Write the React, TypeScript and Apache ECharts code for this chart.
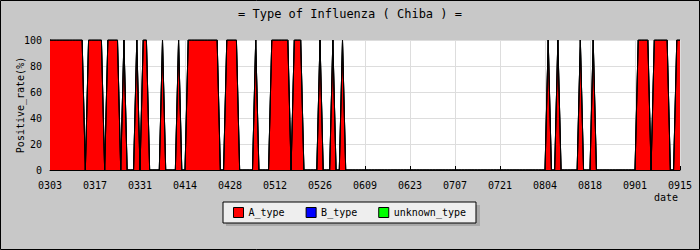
import React, { useEffect, useRef } from "react";
import * as echarts from "echarts";

const TITLE = "= Type of Influenza ( Chiba ) =";
const SERIES_NAMES = ["A_type", "B_type", "unknown_type"];
const SERIES_COLORS = ["#ff0000", "#0000ff", "#00ff00"];
const MONTHS = [3, 4, 5, 6, 7, 8, 9];
const MONTH_DAYS = [31, 30, 31, 30, 31, 31, 30];
const START_DAY = 3;
const END_DAY = 15;

// daily A_type positive rate (%) from 0303 to 0915, 14 days per row
const A_TYPE = [
  100, 100, 100, 100, 100, 100, 100, 100, 100, 100, 100, 0, 100, 100,
  100, 100, 100, 0, 100, 100, 100, 100, 0, 100, 0, 0, 0, 100,
  0, 100, 100, 0, 0, 0, 0, 100, 0, 0, 0, 0, 100, 0,
  0, 100, 100, 100, 100, 100, 100, 100, 100, 100, 100, 0, 0, 100,
  100, 100, 100, 0, 0, 0, 0, 0, 100, 0, 0, 0, 0, 100,
  100, 100, 100, 100, 100, 0, 100, 100, 100, 0, 0, 0, 0, 0,
  100, 0, 0, 0, 100, 0, 0, 100, 0, 0, 0, 0, 0, 0,
  0, 0, 0, 0, 0, 0, 0, 0, 0, 0, 0, 0, 0, 0,
  0, 0, 0, 0, 0, 0, 0, 0, 0, 0, 0, 0, 0, 0,
  0, 0, 0, 0, 0, 0, 0, 0, 0, 0, 0, 0, 0, 0,
  0, 0, 0, 0, 0, 0, 0, 0, 0, 0, 0, 0, 0, 0,
  0, 100, 0, 0, 100, 0, 0, 0, 0, 0, 0, 100, 0, 0,
  0, 100, 0, 0, 0, 0, 0, 0, 0, 0, 0, 0, 0, 0,
  0, 100, 100, 100, 100, 0, 100, 100, 100, 100, 100, 0, 0, 100,
  100,
];

const B_TYPE = [
  0, 0, 0, 0, 0, 0, 0, 0, 0, 0, 0, 0, 0, 0,
  0, 0, 0, 0, 0, 0, 0, 0, 0, 0, 0, 0, 0, 0,
  0, 0, 0, 0, 0, 0, 0, 0, 0, 0, 0, 0, 0, 0,
  0, 0, 0, 0, 0, 0, 0, 0, 0, 0, 0, 0, 0, 0,
  0, 0, 0, 0, 0, 0, 0, 0, 0, 0, 0, 0, 0, 0,
  0, 0, 0, 0, 0, 0, 0, 0, 0, 0, 0, 0, 0, 0,
  0, 0, 0, 0, 0, 0, 0, 0, 0, 0, 0, 0, 0, 0,
  0, 0, 0, 0, 0, 0, 0, 0, 0, 0, 0, 0, 0, 0,
  0, 0, 0, 0, 0, 0, 0, 0, 0, 0, 0, 0, 0, 0,
  0, 0, 0, 0, 0, 0, 0, 0, 0, 0, 0, 0, 0, 0,
  0, 0, 0, 0, 0, 0, 0, 0, 0, 0, 0, 0, 0, 0,
  0, 0, 0, 0, 0, 0, 0, 0, 0, 0, 0, 0, 0, 0,
  0, 0, 0, 0, 0, 0, 0, 0, 0, 0, 0, 0, 0, 0,
  0, 0, 0, 0, 0, 0, 0, 0, 0, 0, 0, 0, 0, 0,
  0,
];

const UNKNOWN_TYPE = [
  0, 0, 0, 0, 0, 0, 0, 0, 0, 0, 0, 0, 0, 0,
  0, 0, 0, 0, 0, 0, 0, 0, 0, 0, 0, 0, 0, 0,
  0, 0, 0, 0, 0, 0, 0, 0, 0, 0, 0, 0, 0, 0,
  0, 0, 0, 0, 0, 0, 0, 0, 0, 0, 0, 0, 0, 0,
  0, 0, 0, 0, 0, 0, 0, 0, 0, 0, 0, 0, 0, 0,
  0, 0, 0, 0, 0, 0, 0, 0, 0, 0, 0, 0, 0, 0,
  0, 0, 0, 0, 0, 0, 0, 0, 0, 0, 0, 0, 0, 0,
  0, 0, 0, 0, 0, 0, 0, 0, 0, 0, 0, 0, 0, 0,
  0, 0, 0, 0, 0, 0, 0, 0, 0, 0, 0, 0, 0, 0,
  0, 0, 0, 0, 0, 0, 0, 0, 0, 0, 0, 0, 0, 0,
  0, 0, 0, 0, 0, 0, 0, 0, 0, 0, 0, 0, 0, 0,
  0, 0, 0, 0, 0, 0, 0, 0, 0, 0, 0, 0, 0, 0,
  0, 0, 0, 0, 0, 0, 0, 0, 0, 0, 0, 0, 0, 0,
  0, 0, 0, 0, 0, 0, 0, 0, 0, 0, 0, 0, 0, 0,
  0,
];

function buildDates(): string[] {
  const out: string[] = [];
  MONTHS.forEach((m, mi) => {
    const first = mi === 0 ? START_DAY : 1;
    const last = mi === MONTHS.length - 1 ? END_DAY : MONTH_DAYS[mi];
    for (let d = first; d <= last; d++) {
      out.push(String(m).padStart(2, "0") + String(d).padStart(2, "0"));
    }
  });
  return out;
}
const DATES = buildDates();

const FONT = "DejaVu Sans Mono";

export default function App() {
  const ref = useRef<HTMLDivElement>(null);
  useEffect(() => {
    document.body.style.margin = "0";
    if (!ref.current) return;
    const chart = echarts.init(ref.current, null, { renderer: "svg" });
    const data = [A_TYPE, B_TYPE, UNKNOWN_TYPE];
    chart.setOption({
      animation: false,
      backgroundColor: "#c8c8c8",
      title: {
        text: TITLE,
        left: "center",
        top: 3,
        textStyle: { fontFamily: FONT, fontSize: 12, fontWeight: "normal", color: "#000" },
      },
      grid: {
        left: 50,
        right: 20,
        top: 40,
        bottom: 80,
        show: true,
        backgroundColor: "#ffffff",
        borderWidth: 0,
        containLabel: false,
        outerBoundsMode: "none",
      },
      legend: {
        data: SERIES_NAMES,
        left: 223,
        top: 202,
        orient: "horizontal",
        itemWidth: 10,
        itemHeight: 10,
        itemGap: 21,
        padding: [5, 10],
        backgroundColor: "#eeeeee",
        borderColor: "#000",
        borderWidth: 1,
        icon: "rect",
        z: 5,
        itemStyle: { borderColor: "#000", borderWidth: 1 },
        textStyle: { fontFamily: FONT, fontSize: 10, color: "#000" },
      },
      xAxis: {
        type: "category",
        data: DATES,
        boundaryGap: false,
        axisLine: { lineStyle: { color: "#000", width: 1 } },
        axisTick: { inside: true, length: 4, interval: 13, lineStyle: { color: "#000" } },
        axisLabel: { interval: 13, margin: 10, fontFamily: FONT, fontSize: 10, color: "#000" },
        splitLine: { show: true, interval: 13, lineStyle: { color: "#dddddd" } },
      },
      yAxis: {
        type: "value",
        min: 0,
        max: 100,
        interval: 20,
        name: "Positive_rate(%)",
        nameLocation: "middle",
        nameGap: 25,
        nameMoveOverlap: false,
        nameTextStyle: { fontFamily: FONT, fontSize: 10, color: "#000" },
        axisLine: { show: true, lineStyle: { color: "#000" } },
        axisTick: { show: true, inside: true, length: 4, lineStyle: { color: "#000" } },
        minorTick: { show: true, splitNumber: 2, length: 4, lineStyle: { color: "#000" } },
        axisLabel: { margin: 8, fontFamily: FONT, fontSize: 10, color: "#000" },
        splitLine: { show: true, lineStyle: { color: "#dddddd" } },
      },
      series: SERIES_NAMES.map((name, i) => ({
        name,
        type: "line",
        stack: "total",
        data: data[i],
        symbol: "none",
        itemStyle: { color: SERIES_COLORS[i] },
        lineStyle: { color: "#000", width: 1 },
        areaStyle: { color: SERIES_COLORS[i], opacity: 1 },
      })),
      graphic: [
        {
          type: "rect",
          z: 1,
          shape: { x: 226, y: 205, width: 254, height: 21 },
          style: { fill: "#a8a8a8" },
        },
        {
          type: "text",
          z: 10,
          x: 678,
          y: 197,
          style: {
            text: "date",
            font: `10px "${FONT}"`,
            fill: "#000",
            textAlign: "right",
            textVerticalAlign: "middle",
          },
        },
        {
          type: "rect",
          z: 10,
          shape: { x: 0.5, y: 0.5, width: 699, height: 249 },
          style: { fill: "none", stroke: "#000", lineWidth: 1 },
        },
      ],
    });
    return () => chart.dispose();
  }, []);
  return <div ref={ref} style={{ width: 700, height: 250 }} />;
}
